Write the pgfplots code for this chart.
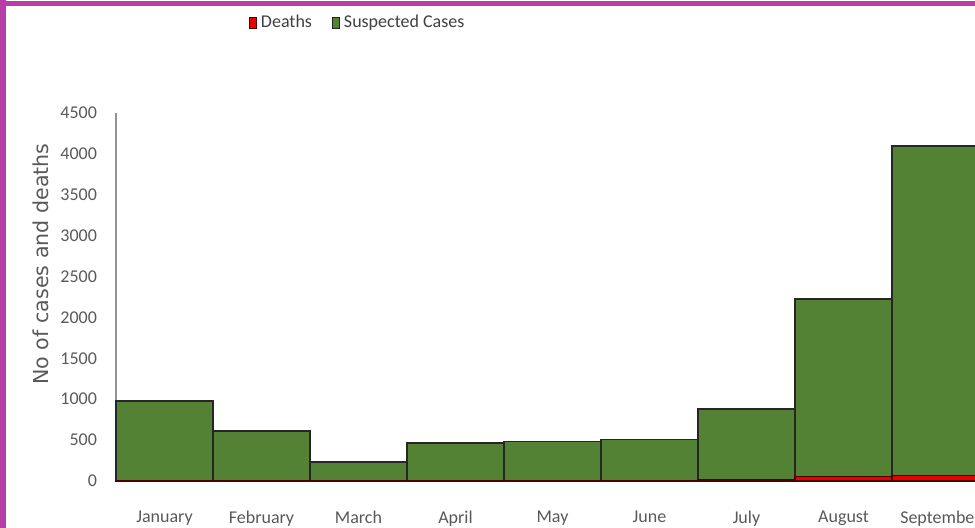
\documentclass[border=0pt]{standalone}
\usepackage{pgfplots}
\pgfplotsset{compat=1.18}
\usepackage{fontspec}
\setmainfont{Carlito}
\newfontfamily\dejavu{DejaVu Sans}
\definecolor{cgreen}{RGB}{84,130,53}
\definecolor{cred}{RGB}{235,0,0}
\definecolor{cpurple}{RGB}{183,62,168}
\definecolor{tickgray}{RGB}{89,89,89}
\begin{document}
\begin{tikzpicture}
\useasboundingbox (0,0) rectangle (487.5pt,264pt);
\fill[white] (0,0) rectangle (487.5pt,264pt);
\clip (0,0) rectangle (487.5pt,264pt);
\begin{axis}[
  at={(58pt,23.5pt)}, anchor=south west,
  scale only axis, width=436.5pt, height=184pt,
  xmin=-0.5, xmax=8.5, ymin=0, ymax=4500,
  enlargelimits=false,
  ybar stacked, bar width=48.5pt,
  xtick={0,1,2,3,4,5,6,7,8},
  xticklabels={January,February,March,April,May,June,July,August,September},
  ytick={0,500,1000,1500,2000,2500,3000,3500,4000,4500},
  major tick length=0pt,
  axis y line*=left, axis x line*=bottom,
  x axis line style={draw=none},
  y axis line style={draw=gray!85, line width=1pt},
  /pgf/number format/assume math mode=true,
  /pgf/number format/1000 sep={},
  tick label style={font=\fontsize{9}{11}\selectfont, text=tickgray},
  x tick label style={yshift=-11.5pt},
  y tick label style={xshift=-6pt},
  legend columns=2,
  legend style={draw=none, fill=none, at={(0.145,1.245)}, anchor=west,
    font=\fontsize{9}{11}\selectfont, text=black!75,
    /tikz/every even column/.append style={column sep=8pt}},
  legend image code/.code={\draw[#1, line width=0.4pt] (0pt,-2.8pt) rectangle (3.6pt,2.8pt);},
  clip=false,
]
\addplot[fill=cred, draw=black!70!red, line width=0.6pt] coordinates {
  (0,5) (1,3) (2,2) (3,3) (4,3) (5,4) (6,15) (7,55) (8,70)};
\addlegendentry{Deaths}
\addplot[fill=cgreen, draw=black!85, line width=0.75pt] coordinates {
  (0,975) (1,607) (2,228) (3,462) (4,482) (5,501) (6,865) (7,2170) (8,4025)};
\addlegendentry{Suspected Cases}
\end{axis}
\node[rotate=90, font=\dejavu\fontsize{10.3}{11}\selectfont, text=tickgray] at (20.5pt,132pt) {No of cases and deaths};
\fill[cpurple] (0,0) rectangle (3pt,264pt);
\fill[cpurple] (0,261pt) rectangle (487.5pt,263.5pt);
\end{tikzpicture}
\end{document}
